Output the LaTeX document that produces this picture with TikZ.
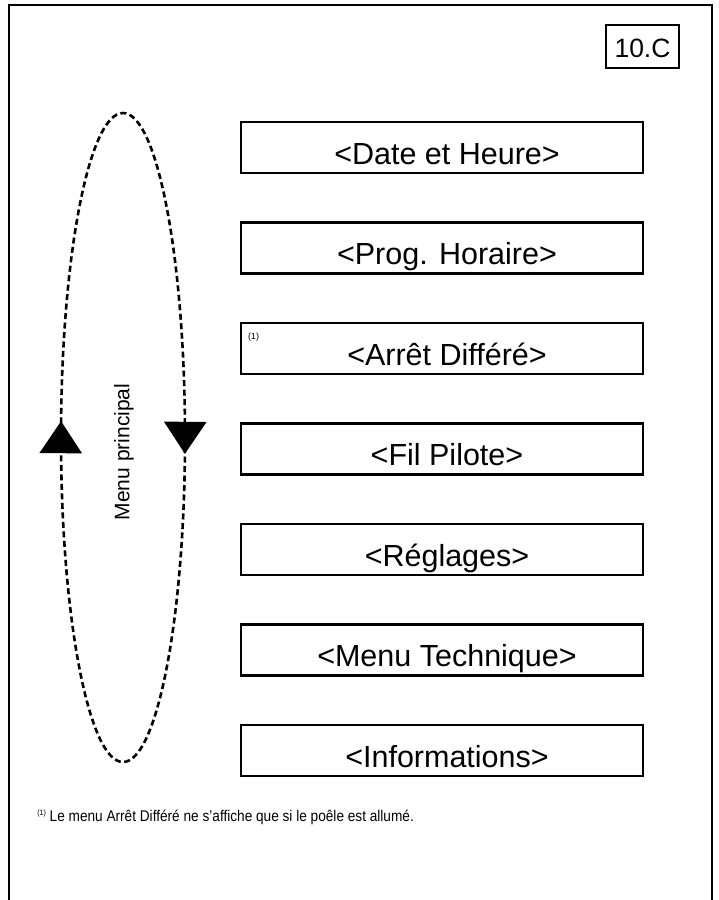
\documentclass[tikz,border=0pt]{standalone}
\usepackage{fontspec}
\setmainfont{Liberation Sans}
\newfontfamily\notefont[FakeStretch=0.88]{Liberation Sans}
\usetikzlibrary{positioning,calc,decorations.markings,arrows.meta}

\newcommand{\fnref}{{\fontsize{8}{9}\selectfont\raisebox{5.5pt}{(1)}}}

\begin{document}
\begin{tikzpicture}[x=1pt, y=-1pt, node distance={100.5pt}, line width=2.6pt,
    menubox/.style = {draw, rectangle, minimum width=402pt, minimum height=51pt, inner sep=0pt,
        text height=33pt, text depth=0pt, font=\fontsize{30.5}{36}\selectfont,
        execute at begin node={\hspace*{10pt}}},
    tag/.style = {draw, rectangle, minimum width=73pt, minimum height=43pt, inner sep=0pt,
        text height=21pt, text depth=0pt, font=\fontsize{26.5}{31}\selectfont},
    loopline/.style = {dash pattern=on 6pt off 3.5pt, postaction={decorate},
        decoration={markings,
            mark=at position 0.012 with {\arrow{Triangle[width=42pt,length=32pt]}},
            mark=at position 0.512 with {\arrow{Triangle[width=42pt,length=32pt]}}}}]
    \useasboundingbox (0,0) rectangle (719,900);
    % page frame, open at the bottom
    \draw (9,900) -- (9,5) -- (712,5) -- (712,900);
    \node[tag] (page) at (642.5,46.5) {10.C};
    % menu entries
    \node[menubox] (date) at (442,147.5) {<Date et Heure>};
    \node[menubox] (prog) [below of=date] {<Prog. Horaire>};
    \node[menubox] (arret) [below of=prog] {<Arrêt Différé>};
    \node[menubox] (fil) [below of=arret] {<Fil Pilote>};
    \node[menubox] (regl) [below of=fil] {<Réglages>};
    \node[menubox] (tech) [below of=regl] {<Menu Technique>};
    \node[menubox] (info) [below of=tech] {<Informations>};
    \node[anchor=north west, inner sep=0pt, font=\fontsize{9}{10}\selectfont] (mark) at ($(arret.north west)+(7,10)$) {(1)};
    % loop through the main menu
    \coordinate (loop) at (123,437.5);
    \draw[loopline] (loop) ellipse [x radius=62, y radius=324.5];
    \node[rotate=90, font=\fontsize{21}{25}\selectfont] (title) at (124,452) {Menu principal};
    \node[anchor=base west, inner sep=0pt, font=\notefont\fontsize{15.5}{18}\selectfont] (foot) at (36,821)
        {\fnref\ Le menu Arrêt Différé ne s’affiche que si le poêle est allumé.};
\end{tikzpicture}
\end{document}
